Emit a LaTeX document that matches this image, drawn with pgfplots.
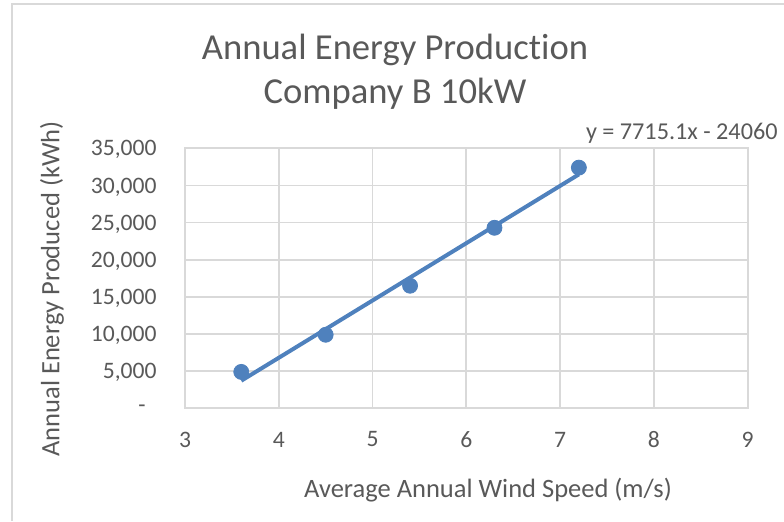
\documentclass[border=0pt]{standalone}
\usepackage{pgfplots}
\pgfplotsset{compat=1.18}
\usepackage{fontspec}
\setmainfont{Carlito}[Ligatures=NoCommon]
\definecolor{txt}{HTML}{595959}
\definecolor{gridc}{HTML}{D9D9D9}
\definecolor{series}{HTML}{4F81BD}

\begin{document}
\begin{tikzpicture}
% page: 784x521 px drawn at 0.5pt per px
\path[use as bounding box] (0,0) rectangle (392pt,260.5pt);
\draw[gridc, line width=0.9pt] (6pt,0) -- (6pt,258.5pt) -- (392pt,258.5pt);

\begin{axis}[
    at={(92.5pt,56.35pt)}, anchor=south west,
    width=281.35pt, height=130pt, scale only axis,
    xmin=3, xmax=9, ymin=0, ymax=35000,
    xtick={3,4,5,6,7,8,9},
    ytick={0,5000,10000,15000,20000,25000,30000,35000},
    yticklabels={{-\rule{5.5pt}{0pt}},{5,000},{10,000},{15,000},{20,000},{25,000},{30,000},{35,000}},
    scaled y ticks=false,
    major tick length=0pt,
    grid=major,
    grid style={gridc, line width=0.9pt},
    axis line style={gridc, line width=0.9pt},
    /pgf/number format/assume math mode=true,
    ticklabel style={font=\fontsize{11.8}{14}\selectfont, text=txt},
    xticklabel style={anchor=center, yshift=-15.6pt},
    yticklabel style={anchor=east, inner sep=0pt, text depth=0pt, xshift=-14pt},
    clip=false,
]
% trendline y = 7715.1x - 24060
\addplot[series, line width=2pt, no markers] coordinates {
    (3.6,3714.36) (7.2,31488.72)
};
% measured points
\addplot[only marks, mark=*, mark size=3.75pt, mark options={fill=series, draw=series}] coordinates {
    (3.6,4900) (4.5,9900) (5.4,16500) (6.3,24300) (7.2,32400)
};
\end{axis}

% titles and labels
\node[anchor=base, text=txt, font=\fontsize{18.3}{22}\selectfont, inner sep=0pt] at (197.5pt,230.5pt) {Annual Energy Production};
\node[anchor=base, text=txt, font=\fontsize{18.3}{22}\selectfont, inner sep=0pt] at (197.5pt,208.75pt) {Company B 10kW};
\node[anchor=base west, text=txt, font=\fontsize{12.1}{14}\selectfont, inner sep=0pt] at (292.8pt,190.85pt) {y = 7715.1x - 24060};
\node[anchor=base, text=txt, font=\fontsize{13.25}{16}\selectfont, inner sep=0pt] at (244pt,12pt) {Average Annual Wind Speed (m/s)};
\node[anchor=base, rotate=90, text=txt, font=\fontsize{13.25}{16}\selectfont, inner sep=0pt] at (29.7pt,116pt) {Annual Energy Produced (kWh)};
\end{tikzpicture}
\end{document}
